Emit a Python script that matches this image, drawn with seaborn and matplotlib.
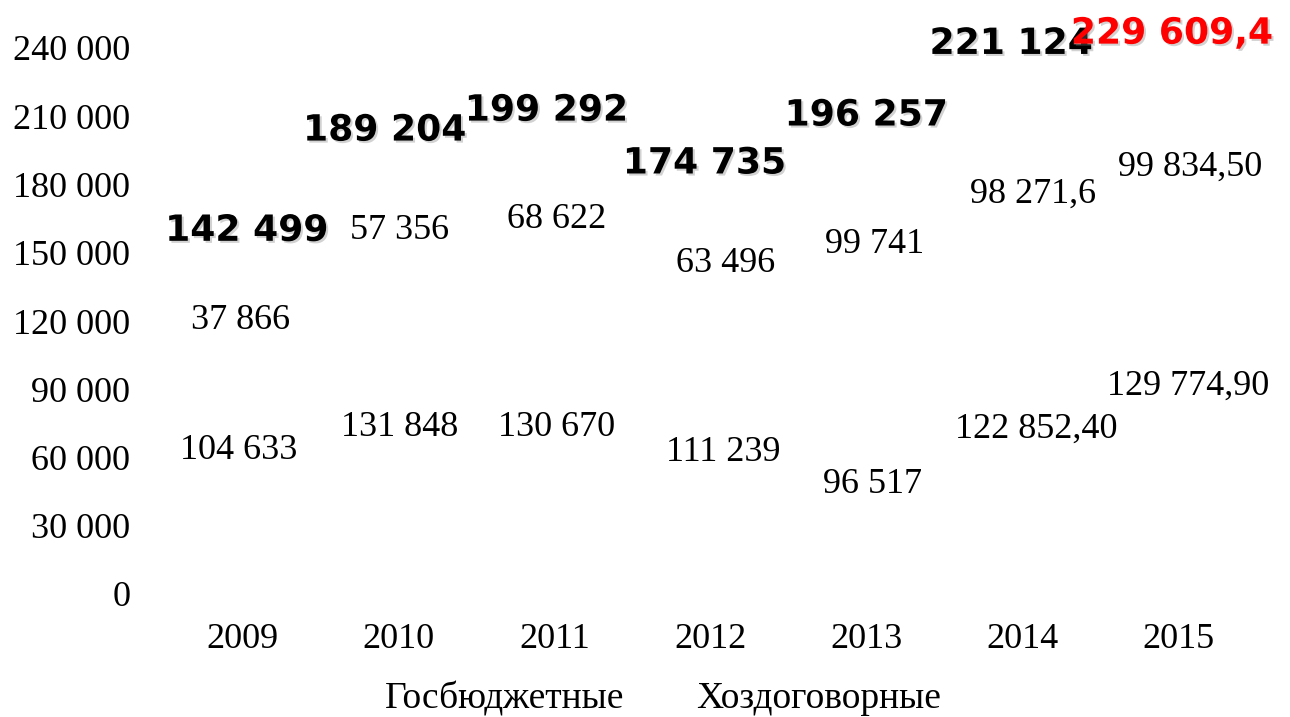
import numpy as np
import pandas as pd
import matplotlib
matplotlib.use("Agg")
import matplotlib.pyplot as plt
import matplotlib.patheffects as pe
from matplotlib.patches import Patch
import seaborn as sns

# ========== DATA ==========
years = ["2009", "2010", "2011", "2012", "2013", "2014", "2015"]
gos = [104633, 131848, 130670, 111239, 96517, 122852.40, 129774.90]
hoz = [37866, 57356, 68622, 63496, 99741, 98271.6, 99834.50]
gos_labels = ["104 633", "131 848", "130 670", "111 239", "96 517", "122 852,40", "129 774,90"]
hoz_labels = ["37 866", "57 356", "68 622", "63 496", "99 741", "98 271,6", "99 834,50"]
total_labels = ["142 499", "189 204", "199 292", "174 735", "196 257", "221 124", "229 609,4"]
series_names = ["Госбюджетные", "Хоздоговорные"]
yticks = [0, 30000, 60000, 90000, 120000, 150000, 180000, 210000, 240000]
ytick_labels = ["0", "30 000", "60 000", "90 000", "120 000", "150 000", "180 000", "210 000", "240 000"]

# label nudges in pixels (hand-placed in the original)
gos_off = [(-4, 24), (1, 17), (2, 18), (13, 15), (6, 0), (14, 25), (10, 60)]
hoz_off = [(-2, -8), (1, -2), (2, -1), (15, 5), (8, 16), (11, 8), (12, 18)]
tot_off = [(4, 39), (-14, 33), (-8, 30), (-6, 33), (0, 32), (-11, 47), (-6, 38)]
tot_colors = ["black"] * 6 + ["#ff0000"]

df = pd.DataFrame({"year": years, "gos": gos, "hoz": hoz})
df["total"] = df["gos"] + df["hoz"]

sns.set_style("white")
plt.rcParams["font.family"] = ["Liberation Serif", "DejaVu Serif"]
plt.rcParams["text.color"] = "black"
plt.rcParams["xtick.color"] = "black"
plt.rcParams["ytick.color"] = "black"

fig = plt.figure(figsize=(12.9, 7.17), dpi=100)
ax = fig.add_axes([165 / 1290, 1 - 594 / 717, 1091 / 1290, 546 / 717])

# bars are white in the original, only the labels show
sns.barplot(data=df, x="year", y="total", color="white", saturation=1, ax=ax, width=0.5)
sns.barplot(data=df, x="year", y="gos", color="white", saturation=1, ax=ax, width=0.5)

ax.set_ylim(0, 240000)
ax.set_xlim(-0.5, len(years) - 0.5)
ax.set_yticks(yticks)
ax.set_yticklabels(ytick_labels)
ax.tick_params(axis="both", length=0, labelsize=26, labelcolor="black")
ax.tick_params(axis="y", pad=25)
ax.tick_params(axis="x", pad=21)
ax.set_xlabel("")
ax.set_ylabel("")
sns.despine(ax=ax, left=True, bottom=True)

shadow = [pe.withSimplePatchShadow(offset=(1.5, -1.5), shadow_rgbFace="gray", alpha=0.35)]

for i in range(len(years)):
    g, h, t = df.loc[i, "gos"], df.loc[i, "hoz"], df.loc[i, "total"]
    ax.annotate(gos_labels[i], (i, g / 2), xytext=gos_off[i], textcoords="offset pixels",
                ha="center", va="center", fontsize=26, color="black")
    ax.annotate(hoz_labels[i], (i, g + h / 2), xytext=hoz_off[i], textcoords="offset pixels",
                ha="center", va="center", fontsize=26, color="black")
    txt = ax.annotate(total_labels[i], (i, t), xytext=tot_off[i], textcoords="offset pixels",
                      ha="center", va="center", fontsize=26, fontweight="bold",
                      family="DejaVu Sans", color=tot_colors[i])
    txt.set_path_effects(shadow)

handles = [Patch(facecolor="white", edgecolor="none") for _ in series_names]
fig.legend(handles, series_names, loc="center", bbox_to_anchor=(646 / 1290, 1 - 699 / 717),
           ncol=2, frameon=False, fontsize=27, handlelength=0.6, handletextpad=0.3,
           columnspacing=1.0, labelcolor="black")

fig.savefig("out.png", dpi=100)
